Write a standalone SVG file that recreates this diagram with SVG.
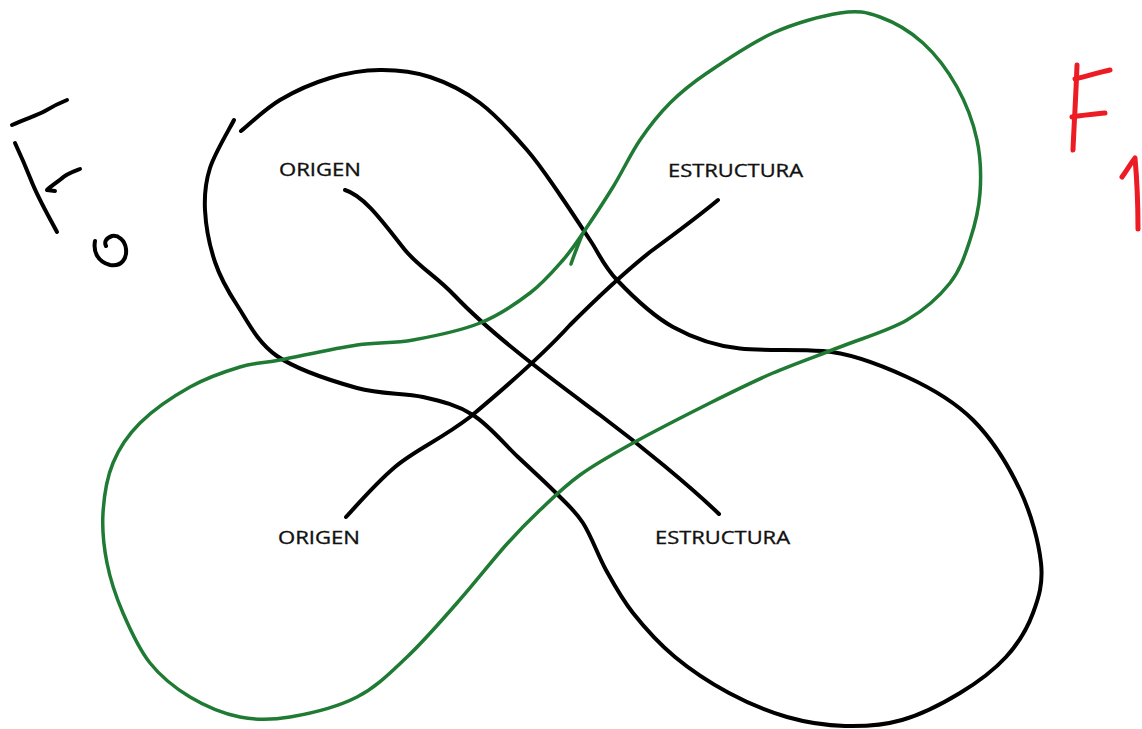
<svg xmlns="http://www.w3.org/2000/svg" width="1142" height="729" viewBox="0 0 1142 729">
<style>
.blk{fill:none;stroke:#000;stroke-width:4;stroke-linecap:round;stroke-linejoin:round}
.grn{fill:none;stroke:#1f7a33;stroke-width:3.5;stroke-linecap:round;stroke-linejoin:round}
.red{fill:none;stroke:#ed1c24;stroke-width:5;stroke-linecap:round;stroke-linejoin:round}
.lbl{font-family:"Open Sans","Liberation Sans",sans-serif;font-size:19px;fill:#111;stroke:#111;stroke-width:0.35}
</style>
<rect width="1142" height="729" fill="#fff"/>
<g id="F0">
<path class="blk" d="M12,125 C25,119 38,115 45,111 C55,105 62,102 67,100"/>
<path class="blk" d="M15,143 C22,158 27,170 31,180 C38,198 48,215 57,232"/>
<path class="blk" d="M80,169 C72,172 66,174 61,179 C56,183 50,187 47,190 L55,191"/>
<path class="blk" d="M95,241 C93,252 98,262 110,265 C122,267 127,258 126,249 C125,240 118,235 112,236 C106,238 104,242 106,246"/>
</g>
<g id="F1">
<path class="red" d="M1077,65 C1076,95 1074,125 1073,150"/>
<path class="red" d="M1075,79 C1088,76 1100,72 1110,70"/>
<path class="red" d="M1072,117 C1084,115 1095,114 1105,113"/>
<path class="red" d="M1122,177 C1127,170 1131,163 1135,158 C1137,180 1138,205 1138,229"/>
</g>
<g id="connectors">
<path id="loop-black" class="blk" d="M241,131 C247.5,125.8 265.2,108.8 280,100 C294.8,91.2 313.3,83 330,78 C346.7,73 363.3,70.2 380,70 C396.7,69.8 413.3,71.5 430,77 C446.7,82.5 463.8,90.8 480,103 C496.2,115.2 513.7,134.7 527,150 C540.3,165.3 549.5,180 560,195 C570.5,210 580.5,225.8 590,240 C599.5,254.2 603.2,265.5 617,280 C630.8,294.5 652.5,315.7 673,327 C693.5,338.3 715,346 740,348.5 C765,351 795.2,349 823,351 C850.8,353 882,365.5 907,377 C932,388.5 954.2,401.2 973,420 C991.8,438.8 1008.7,466.2 1020,490 C1031.3,513.8 1038.8,542.5 1041,563 C1043.2,583.5 1038.8,597.3 1033,613 C1027.2,628.7 1018.2,643.7 1006,657 C993.8,670.3 977.3,682.5 960,693 C942.7,703.5 921.2,714.5 902,720 C882.8,725.5 864.2,726.5 845,726 C825.8,725.5 806.3,722.5 787,717 C767.7,711.5 747.7,703 729,693 C710.3,683 691,670.3 675,657 C659,643.7 644.5,627.5 633,613 C621.5,598.5 614.3,585 606,570 C597.7,555 591.3,535.8 583,523 C574.7,510.2 566.8,504 556,493 C545.2,482 531.8,470 518,457 C504.2,444 488.8,425 473,415 C457.2,405 442.3,401.5 423,397 C403.7,392.5 381.3,394.8 357,388 C332.7,381.2 297,369.8 277,356 C257,342.2 247.3,320.7 237,305 C226.7,289.3 220.3,277.8 215,262 C209.7,246.2 205.8,225.7 205,210 C204.2,194.3 205.2,183 210,168 C214.8,153 230,128 234,120"/>
<path id="diag-1" class="blk" d="M345,190 C365,196 385,225 405,250 C420,268 435,275 455,296 C495,338 560,385 600,415 C640,445 690,486 719,514"/>
<path id="diag-2" class="blk" d="M718,200 C700,215 680,230 650,252 C625,272 600,295 570,325 C540,358 500,392 470,417 C440,440 415,450 395,467 C375,484 360,502 346,517"/>
<path id="loop-green" class="grn" d="M280,360 C299.5,356.3 334.8,348.3 357,345 C379.2,341.7 392.5,343.7 413,340 C433.5,336.3 460.5,330.8 480,323 C499.5,315.2 516.2,303.5 530,293 C543.8,282.5 554.2,270 563,260 C571.8,250 574.7,245.2 583,233 C591.3,220.8 603.5,202.5 613,187 C622.5,171.5 630.5,154 640,140 C649.5,126 658.8,114.2 670,103 C681.2,91.8 689.8,84.7 707,73 C724.2,61.3 750.8,43 773,33 C795.2,23 822.2,15.7 840,13 C857.8,10.3 866.2,12 880,17 C893.8,22 910.2,31.3 923,43 C935.8,54.7 948,70.8 957,87 C966,103.2 973.2,122.3 977,140 C980.8,157.7 981.2,176.3 980,193 C978.8,209.7 975,225 970,240 C965,255 960.5,269.7 950,283 C939.5,296.3 925.3,309.3 907,320 C888.7,330.7 862.3,338.2 840,347 C817.7,355.8 794.7,363.7 773,373 C751.3,382.3 733.3,391.3 710,403 C686.7,414.7 654.7,431 633,443 C611.3,455 595.5,463.8 580,475 C564.5,486.2 552.3,498.3 540,510 C527.7,521.7 519.8,529.5 506,545 C492.2,560.5 473.5,584.3 457,603 C440.5,621.7 423.7,641.3 407,657 C390.3,672.7 376.5,687 357,697 C337.5,707 309.5,713.7 290,717 C270.5,720.3 256.7,720.3 240,717 C223.3,713.7 205,706 190,697 C175,688 161.2,677 150,663 C138.8,649 130.2,629.7 123,613 C115.8,596.3 110.3,579.7 107,563 C103.7,546.3 102,529.7 103,513 C104,496.3 106.8,478 113,463 C119.2,448 127.2,435.7 140,423 C152.8,410.3 173.3,396.3 190,387 C206.7,377.7 225,371.5 240,367 C255,362.5 260.5,363.7 280,360 Z"/>
<path id="green-arrow" class="grn" d="M582,235 C578,245 574,255 571,264"/>
</g>
<g id="label-origen-top"><text class="lbl" x="279" y="176" textLength="82" lengthAdjust="spacingAndGlyphs">ORIGEN</text></g>
<g id="label-estructura-top"><text class="lbl" x="668" y="177" textLength="135" lengthAdjust="spacingAndGlyphs">ESTRUCTURA</text></g>
<g id="label-origen-bottom"><text class="lbl" x="278" y="544" textLength="82" lengthAdjust="spacingAndGlyphs">ORIGEN</text></g>
<g id="label-estructura-bottom"><text class="lbl" x="655" y="544" textLength="135" lengthAdjust="spacingAndGlyphs">ESTRUCTURA</text></g>
</svg>
